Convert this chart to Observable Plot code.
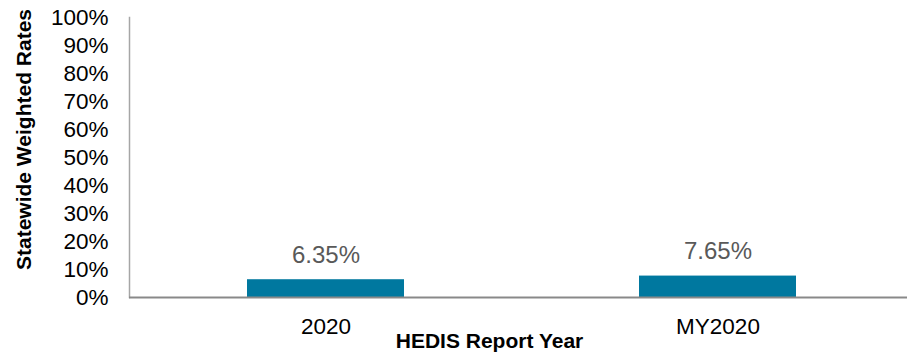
<!DOCTYPE html>
<html>
<head>
<meta charset="utf-8">
<script src="https://cdn.jsdelivr.net/npm/d3@7"></script>
<script src="https://cdn.jsdelivr.net/npm/@observablehq/plot@0.6"></script>
<style>
  body { margin: 0; background: #fff; }
</style>
</head>
<body>
<div id="chart"></div>
<script>
// Report years on the x axis
const reportYears = ["2020", "MY2020"];
// Statewide weighted rates (fractions)
const weightedRates = [0.0635, 0.0765];
// Value labels shown above each bar
const rateLabels = ["6.35%", "7.65%"];
// Y-axis tick values
const yTicks = [0, 0.1, 0.2, 0.3, 0.4, 0.5, 0.6, 0.7, 0.8, 0.9, 1];

const rows = reportYears.map((year, i) => ({year, rate: weightedRates[i], label: rateLabels[i]}));

const font = "'Liberation Sans', Arial, Helvetica, sans-serif";

const chart = Plot.plot({
  width: 907,
  height: 355,
  marginLeft: 129,
  marginRight: 0,
  marginTop: 17,
  marginBottom: 58,
  style: {fontFamily: font, background: "#fff", overflow: "visible"},
  x: {domain: reportYears, range: [129, 914], paddingInner: 0.6, paddingOuter: 0.3},
  y: {domain: [0, 1]},
  marks: [
    // left axis line
    Plot.frame({anchor: "left", stroke: "#a6a6a6", strokeWidth: 1.5}),
    Plot.axisY(yTicks, {
      tickSize: 0, tickPadding: 21, fontSize: 22.5, fill: "#000", label: null,
      tickFormat: d => Math.round(d * 100) + "%"
    }),
    Plot.axisX({tickSize: 0, tickPadding: 21, fontSize: 22.5, fill: "#000", label: null}),
    Plot.barY(rows, {x: "year", y: "rate", fill: "#00789f"}),
    Plot.ruleY([0], {stroke: "#898989", strokeWidth: 2}),
    Plot.text(rows, {
      x: "year", y: "rate", text: "label", dy: -17, lineAnchor: "bottom",
      fontSize: 24, fill: "#595959"
    }),
    Plot.text(["HEDIS Report Year"], {
      text: d => d, frameAnchor: "bottom", lineAnchor: "middle", textAnchor: "middle",
      dx: -29, dy: 44, fontWeight: "bold", fontSize: 21, fill: "#000"
    }),
    Plot.text(["Statewide Weighted Rates"], {
      text: d => d, frameAnchor: "left", lineAnchor: "middle", textAnchor: "middle",
      rotate: -90, dx: -105.5, dy: -18, fontWeight: "bold", fontSize: 21, fill: "#000"
    })
  ]
});

document.getElementById("chart").append(chart);
</script>
</body>
</html>
